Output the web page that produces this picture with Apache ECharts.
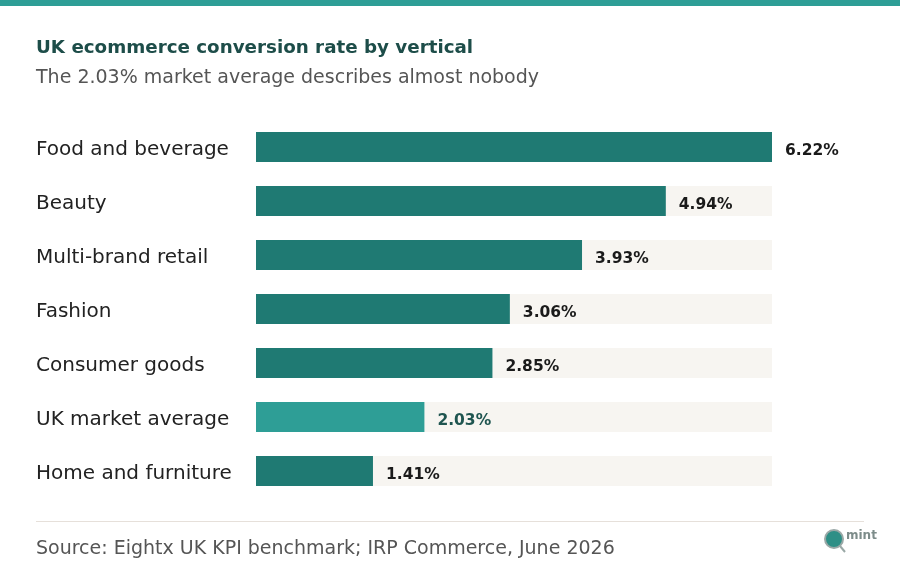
<!DOCTYPE html>
<html>
<head>
<meta charset="utf-8">
<script src="https://cdn.jsdelivr.net/npm/echarts@6/dist/echarts.min.js"></script>
<style>
html,body{margin:0;padding:0;background:#ffffff;}
#chart{width:900px;height:574px;}
</style>
</head>
<body>
<div id="chart"></div>
<script>
var categories = ["Food and beverage","Beauty","Multi-brand retail","Fashion","Consumer goods","UK market average","Home and furniture"];
var values = [6.22, 4.94, 3.93, 3.06, 2.85, 2.03, 1.41];
var highlightCategory = "UK market average";
var axisMax = 6.22;

var FONT = "'DejaVu Sans', sans-serif";
var chart = echarts.init(document.getElementById('chart'), null, {renderer:'canvas'});

var barData = values.map(function(v, i){
  var hl = categories[i] === highlightCategory;
  return {
    value: v,
    itemStyle: {color: hl ? '#2e9e96' : '#1f7a73'},
    label: {rich: {v: {color: hl ? '#1f5550' : '#1a1a1a'}}}
  };
});

chart.setOption({
  backgroundColor: '#ffffff',
  animation: false,
  grid: {left: 256, right: 128, top: 120, bottom: 76, containLabel: false},
  xAxis: {type: 'value', min: 0, max: axisMax, show: false},
  yAxis: {
    type: 'category', data: categories, inverse: true,
    axisLine: {show: false}, axisTick: {show: false}, splitLine: {show: false},
    axisLabel: {align: 'left', margin: 220,
      formatter: function(v){ return '{c|' + v + '}'; },
      rich: {c: {color: '#222222', fontSize: 20, fontFamily: FONT, padding: [5, 0, 0, 0]}}}
  },
  series: [{
    type: 'bar', data: barData, barWidth: 30,
    showBackground: true,
    backgroundStyle: {color: '#f7f5f1'},
    label: {show: true, position: 'right', distance: 13,
      formatter: function(p){ return '{v|' + p.value.toFixed(2) + '%}'; },
      rich: {v: {fontSize: 15.5, fontWeight: 'bold', fontFamily: FONT, padding: [7, 0, 0, 0]}}}
  }],
  graphic: [
    {type: 'rect', left: 0, top: 0, shape: {width: 900, height: 6}, style: {fill: '#2e9e96'}},
    {type: 'text', left: 36, top: 39, style: {text: 'UK ecommerce conversion rate by vertical', fill: '#1d4d49', font: 'bold 18.3px ' + FONT}},
    {type: 'text', left: 36, top: 69, style: {text: 'The 2.03% market average describes almost nobody', fill: '#555555', font: '19px ' + FONT}},
    {type: 'rect', left: 36, top: 521, shape: {width: 828, height: 1}, style: {fill: '#e6e0da'}},
    {type: 'text', left: 36, top: 540, style: {text: 'Source: Eightx UK KPI benchmark; IRP Commerce, June 2026', fill: '#555555', font: '19px ' + FONT}},
    {type: 'circle', shape: {cx: 834, cy: 539, r: 9}, style: {fill: '#2e8f86', stroke: '#9aa8a6', lineWidth: 2}},
    {type: 'line', shape: {x1: 840, y1: 546, x2: 845, y2: 552}, style: {stroke: '#9aa8a6', lineWidth: 2}},
    {type: 'text', left: 846, top: 530, style: {text: 'mint', fill: '#7d8c8a', font: 'bold 12px ' + FONT}}
  ]
});
</script>
</body>
</html>
